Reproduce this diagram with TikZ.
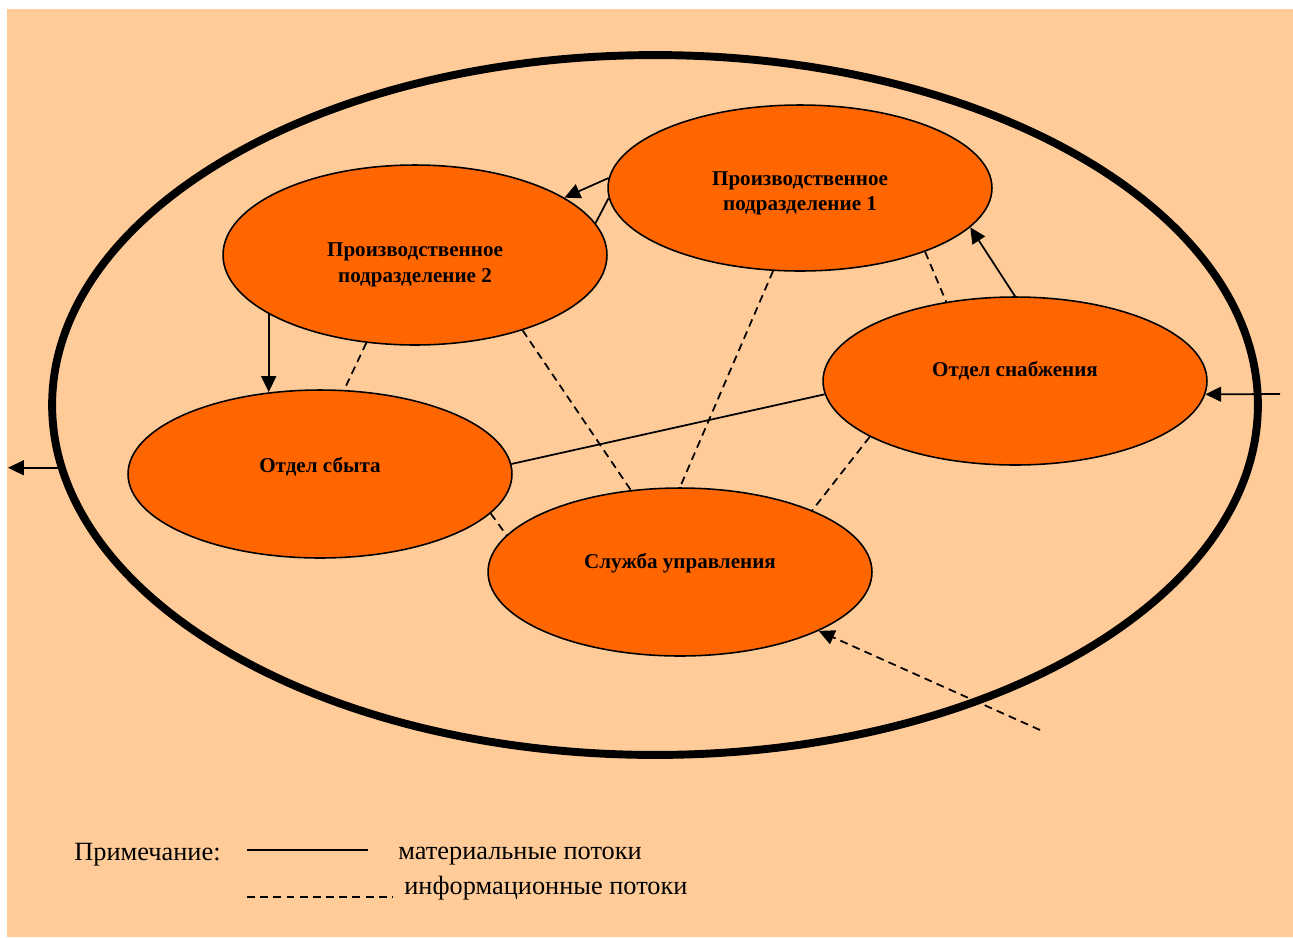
\documentclass[tikz,border=0pt]{standalone}
\usepackage{fontspec}
\setmainfont{Liberation Serif}
\usetikzlibrary{shapes.geometric,arrows.meta,positioning,calc}
\definecolor{peach}{HTML}{FFCC99}
\definecolor{unitorange}{HTML}{FF6600}
\tikzset{
  unit/.style={ellipse, draw, line width=0.9pt, fill=unitorange, minimum width=7.68cm,
    minimum height=3.36cm, align=center, font=\bfseries\fontsize{12}{14.5}\selectfont},
  raised/.style={text depth=#1},
  flow/.style={line width=1pt},
  info/.style={line width=1pt, dash pattern=on 4.5pt off 3pt},
  tip/.style={-{Triangle[length=9pt,width=8.5pt]}},
  legend/.style={anchor=west, inner sep=0pt, font=\fontsize{15}{18}\selectfont}
}

\begin{document}
\begin{tikzpicture}[x=0.02cm, y=-0.02cm]
    \useasboundingbox (0,0) rectangle (1293,937);
    \fill[peach] (7,9) rectangle (1293,937);

    \node[ellipse, draw, line width=4.5pt, minimum width=24.12cm, minimum height=14cm] (firm) at (655,405) {};

    \node[unit, minimum height=3.32cm, text height=31pt, text depth=5pt] (prod1) at (800,188) {Производственное\\подразделение 1};
    \node[unit, minimum height=3.6cm, text height=36pt, text depth=5pt] (prod2) at (415,255) {Производственное\\подразделение 2};
    \node[unit, raised=14pt] (supply) at (1015,381) {Отдел снабжения};
    \node[unit, raised=10.5pt] (sales) at (320,474) {Отдел сбыта};
    \node[unit, raised=12.7pt] (mgmt) at (680,572) {Служба управления};

    \coordinate (inflow) at (1280,394);
    \coordinate (outflow) at (8,465);
    \coordinate (orders) at (1040,730);

    \draw[flow, tip] (prod1.177) -- (prod2.21);
    \draw[flow] (prod1.183) -- (prod2.10);
    \draw[flow, tip] (prod2.202.6) -- (prod2.202.6 |- sales.121);
    \draw[flow, tip] (supply.90) -- (prod1.347);
    \draw[flow] (supply.184) -- (sales.3);
    \draw[flow, tip] (inflow) -- (supply.356);
    \draw[flow, tip] (firm.186) -- (firm.186 -| outflow);

    \draw[info] (prod2.241) -- (sales.74);
    \draw[info] (prod2.325) -- (mgmt.121);
    \draw[info] (prod1.252) -- (mgmt.90);
    \draw[info] (prod1.333) -- (supply.131);
    \draw[info] (supply.201) -- (mgmt.25);
    \draw[info] (sales.347) -- (mgmt.168);
    \draw[info, tip] (orders) -- (mgmt.337);

    \node[legend] (note) at (74,855) {Примечание:};
    \node[legend] (material) at (398,856) {материальные потоки};
    \node[legend] (information) at (404,888) {информационные потоки};
    \coordinate (matA) at (247,850);
    \coordinate (matB) at (368,850);
    \coordinate (infA) at (247,897);
    \coordinate (infB) at (392,897);
    \draw[line width=1.1pt] (matA) -- (matB);
    \draw[info] (infA) -- (infB);
\end{tikzpicture}
\end{document}
